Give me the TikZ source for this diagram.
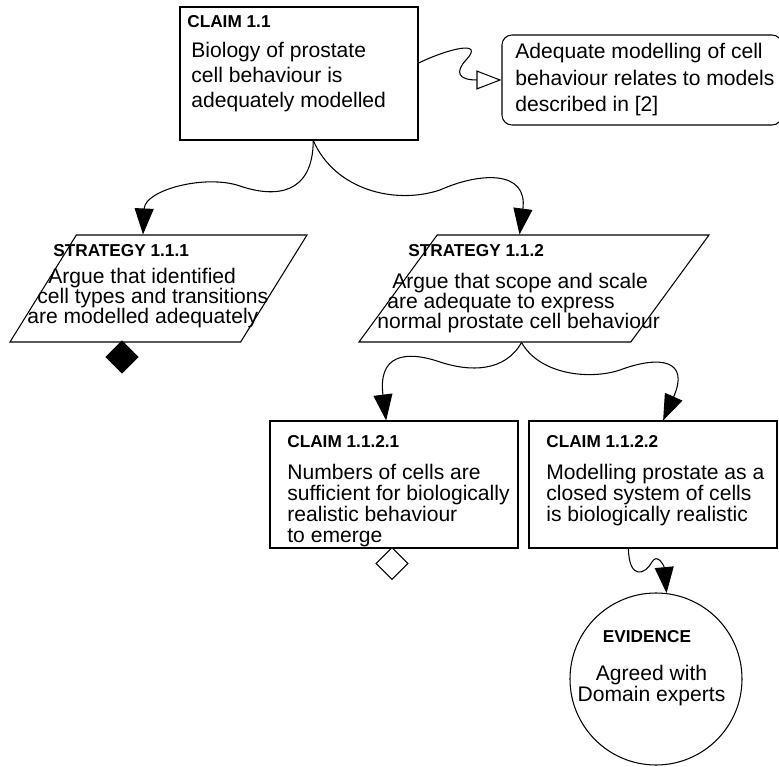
\documentclass[tikz,border=0pt]{standalone}
\usepackage{fontspec}
\setmainfont{Liberation Sans}
\usepackage{tikz}
\usetikzlibrary{arrows.meta, positioning, shapes.geometric}

\begin{document}
\begin{tikzpicture}[
    caja/.style={draw, line width=0.6pt, inner sep=0pt},
    titulo/.style={anchor=base west, inner sep=0pt, font=\fontsize{9.8}{11}\selectfont\bfseries},
    texto/.style={anchor=base west, inner sep=0pt, align=left, font=\fontsize{12}{14.5}\selectfont},
    flecha/.style={line width=0.6pt, -{Triangle[length=0.52cm, width=0.38cm]}},
    contexto/.style={line width=0.6pt, -{Triangle[open, length=0.5cm, width=0.38cm]}},
    estrategia/.style={caja, trapezium, trapezium left angle=68, trapezium right angle=112,
        trapezium stretches, inner sep=1pt, minimum height=2.14cm},
    rombo/.style={diamond, draw, line width=0.6pt, minimum size=0.64cm, inner sep=0pt}
]
    \useasboundingbox (0,0) rectangle (15.58,15.32);

    % Afirmacion principal y contexto
    \node[caja, minimum width=4.76cm, minimum height=2.66cm] (claimA) at (5.98,13.85) {};
    \node[titulo] (claimAtit) at (3.74,14.76) {CLAIM 1.1};
    \node[texto] (claimAtxt) at (3.82,13.16) {Biology of prostate\\cell behaviour is\\adequately modelled};

    \node[caja, rounded corners=0.2cm, minimum width=5.6cm, minimum height=1.8cm] (ctx) at (12.84,13.72) {};
    \node[texto, font=\fontsize{12}{15.3}\selectfont] (ctxtxt) at (10.3,13.08)
        {Adequate modelling of cell\\behaviour relates to models\\described in [2]};

    % Estrategias
    \node[estrategia, minimum width=5.94cm] (stratA) at (3.17,9.55) {};
    \node[titulo] (stratAtit) at (1.06,10.18) {STRATEGY 1.1.1};
    \node[texto, font=\fontsize{12}{11.6}\selectfont] (stratAtxt) at (0.54,8.84)
        {\hspace*{0.42cm}Argue that identified\\\hspace*{0.2cm}cell types and transitions\\are modelled adequately};
    \node[rombo, fill=black] (undevA) at (2.44,8.18) {};

    \node[estrategia, minimum width=7.0cm] (stratB) at (10.68,9.55) {};
    \node[titulo] (stratBtit) at (8.16,10.18) {STRATEGY 1.1.2};
    \node[texto, font=\fontsize{12}{11.6}\selectfont] (stratBtxt) at (7.54,8.74)
        {\hspace*{0.3cm}Argue that scope and scale\\\hspace*{0.2cm}are adequate to express\\normal prostate cell behaviour};

    % Sub-afirmaciones
    \node[caja, minimum width=4.96cm, minimum height=2.54cm] (claimC) at (7.88,5.63) {};
    \node[titulo] (claimCtit) at (5.74,6.36) {CLAIM 1.1.2.1};
    \node[texto, font=\fontsize{12}{12.1}\selectfont] (claimCtxt) at (5.74,4.46)
        {Numbers of cells are\\sufficient for biologically\\realistic behaviour\\to emerge};
    \node[rombo, fill=white] (undevC) at (7.84,4.05) {};

    \node[caja, minimum width=4.96cm, minimum height=2.54cm] (claimD) at (13.06,5.63) {};
    \node[titulo] (claimDtit) at (10.92,6.36) {CLAIM 1.1.2.2};
    \node[texto, font=\fontsize{12}{12.1}\selectfont] (claimDtxt) at (10.92,4.88)
        {Modelling prostate as a\\closed system of cells\\is biologically realistic};

    % Evidencia
    \node[caja, circle, minimum size=3.44cm] (evid) at (13.12,1.74) {};
    \node[titulo, anchor=base] (evidtit) at (12.94,2.46) {EVIDENCE};
    \node[texto, anchor=base, align=center, font=\fontsize{12}{12.5}\selectfont] (evidtxt) at (13.03,1.28)
        {Agreed with\\Domain experts};

    % Conectores
    \draw[contexto] (claimA.5) .. controls (9.0,14.36) and (9.7,14.52) .. (9.32,14.12)
        .. controls (9.1,13.88) and (9.16,13.72) .. (ctx.west);
    \draw[flecha] (claimA.-78) .. controls (6.26,11.42) and (5.5,11.36) .. (4.8,11.6)
        .. controls (4.1,11.84) and (2.9,11.52) .. (stratA.106);
    \draw[flecha] (claimA.-78) .. controls (6.7,11.52) and (7.9,11.22) .. (8.8,11.52)
        .. controls (9.6,11.88) and (10.56,11.92) .. (stratB.105);
    \draw[flecha] (stratB.-103) .. controls (10.1,7.88) and (9.4,7.88) .. (8.8,8.08)
        .. controls (8.1,8.32) and (7.56,8.22) .. (claimC.97);
    \draw[flecha] (stratB.-103) .. controls (10.8,7.82) and (11.8,7.72) .. (12.4,7.92)
        .. controls (13.2,8.22) and (13.8,8.12) .. (claimD.81);
    \draw[flecha] (claimD.-111) .. controls (12.58,3.72) and (12.9,3.82) .. (13.04,4.08)
        .. controls (13.14,4.26) and (13.28,4.02) .. (evid.83);
\end{tikzpicture}
\end{document}
